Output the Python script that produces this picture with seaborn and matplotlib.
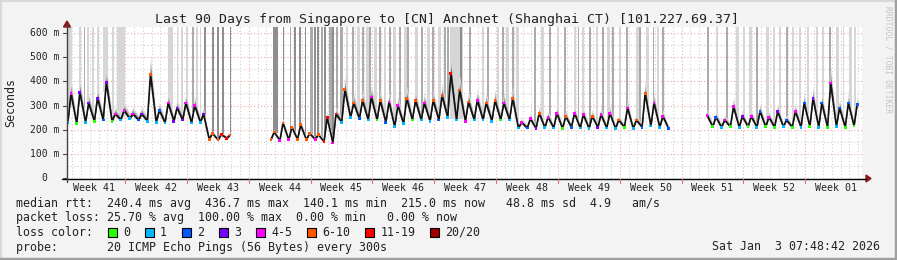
import numpy as np
import pandas as pd
import matplotlib
matplotlib.use("Agg")
import matplotlib.pyplot as plt
import seaborn as sns
from matplotlib.patches import Rectangle, Polygon
from matplotlib.lines import Line2D

# ---------------- data ----------------
# daily trough / peak of the median rtt (ms), None = no data
median_lo = [230, 225, 230, 235, 240, 235, 240, 245, 240, 235, 230, 228, 235, 240, 228, 230,
             160, 158, 165,
             None, None, None, None,
             160, 155, 158, 160, 158, 160, 150, 145,
             230, 250, 245, 240, 240, 230, 212, 225, 240, 240, 235, 240, 250, 240, 235, 240, 240, 235, 240, 240,
             207, 207, 205, 208, 207, 205, 210, 207, 205, 210, 207, 205, 210, 205, 210, 215, 210,
             205, None, None, None, None,
             212, 210, 212, 210, 212, 210, 212, 210, 212, 210, 210, 212, 210, 210, 212, 210, 215]
median_hi = [350, 355, 310, 330, 395, 265, 280, 265, 265, 430, 280, 310, 290, 310, 300, 265,
             185, 180, 178,
             None, None, None, None,
             190, 228, 210, 220, 185, 180, 250, 265,
             365, 310, 320, 335, 320, 315, 300, 330, 320, 310, 320, 340, 434, 364, 315, 322, 310, 320, 310, 330,
             230, 245, 268, 252, 268, 255, 268, 262, 255, 262, 268, 240, 290, 240, 350, 310, 255,
             None, None, None, None, 260,
             252, 240, 295, 255, 255, 275, 252, 275, 240, 275, 310, 330, 310, 393, 290, 310, 305]
# loss colour class index at trough / peak
loss_lo = [1, 0, 1, 0, 2, 0, 1, 1, 2, 1, 1, 1, 3, 3, 1, 1,
           5, 5, 6,
           0, 0, 0, 0,
           5, 4, 4, 5, 5, 4, 6, 4,
           1, 1, 2, 1, 0, 2, 1, 1, 0, 1, 1, 2, 1, 1, 4, 1, 1, 1, 0, 1,
           1, 2, 3, 1, 1, 0, 2, 1, 1, 3, 1, 1, 0, 1, 2, 1, 1,
           2, 0, 0, 0, 0,
           0, 1, 0, 1, 0, 1, 0, 0, 1, 0, 1, 0, 1, 0, 1, 0, 0]
loss_hi = [4, 3, 3, 3, 3, 4, 4, 4, 3, 5, 2, 4, 3, 4, 4, 3,
           5, 6, 5,
           0, 0, 0, 0,
           5, 5, 5, 5, 5, 5, 6, 6,
           5, 5, 5, 4, 5, 4, 4, 5, 5, 4, 5, 5, 6, 5, 5, 4, 5, 5, 4, 5,
           4, 4, 5, 4, 4, 5, 4, 4, 5, 4, 4, 5, 4, 5, 5, 4, 4,
           0, 0, 0, 0, 4,
           2, 4, 4, 3, 4, 2, 4, 3, 2, 4, 2, 3, 2, 4, 2, 2, 2]

# packet-loss smoke bars: day position, width (days), shade class
loss_bar_day = [0.3, 1.5, 2.0, 2.4, 2.9, 3.5, 4.35, 5.2, 6.15, 11.7, 12.5, 13.0, 13.6, 14.3, 14.7, 15.1,
                15.6, 16.5, 17.1, 17.7, 18.5, 23.6, 24.5, 25.3, 25.8, 26.4, 27.0, 27.7, 28.1, 28.4, 28.9,
                29.2, 29.8, 30.1, 30.6, 31.1, 31.7, 32.4, 33.0, 33.5, 34.0, 34.3, 34.9, 35.4, 36.0, 36.6,
                37.1, 37.7, 38.3, 38.6, 39.6, 40.2, 40.9, 41.4, 42.2, 42.8, 43.1, 44.1, 44.6, 45.6, 47.1,
                47.7, 48.8, 49.4, 49.9, 50.5, 51.0, 53.0, 53.8, 54.7, 55.6, 56.4, 57.5, 57.9, 58.4, 59.2,
                60.0, 60.7, 61.3, 61.8, 62.6, 63.4, 64.6, 64.9, 65.7, 66.4, 66.9, 67.5, 72.6, 73.6, 74.7,
                75.9, 76.6, 77.4, 78.1, 79.3, 80.0, 80.7, 81.5, 82.2, 83.0, 83.9, 84.9, 85.6, 86.4, 87.2,
                87.9, 88.7, 89.2]
loss_bar_width = [0.5, 0.2, 0.15, 0.2, 0.2, 0.2, 0.6, 0.2, 0.9, 0.6, 0.2, 0.2, 0.2, 0.2, 0.2, 0.2,
                  0.2, 0.2, 0.2, 0.2, 0.2, 0.6, 0.2, 0.2, 0.2, 0.2, 0.2, 0.3, 0.2, 0.2, 0.2,
                  0.2, 0.3, 0.2, 0.2, 0.3, 0.3, 0.2, 0.3, 0.2, 0.3, 0.2, 0.3, 0.2, 0.3, 0.2,
                  0.3, 0.2, 0.3, 0.2, 0.3, 0.2, 0.3, 0.2, 0.3, 0.2, 0.2, 1.4, 0.3, 0.2, 0.3,
                  0.2, 0.3, 0.2, 0.3, 0.2, 0.3, 0.2, 0.3, 0.2, 0.3, 0.2, 0.3, 0.2, 0.3, 0.2,
                  0.3, 0.2, 0.3, 0.2, 0.3, 0.2, 0.3, 0.2, 0.3, 0.2, 0.3, 0.2, 0.2, 0.3, 0.2,
                  0.3, 0.2, 0.3, 0.2, 0.3, 0.2, 0.3, 0.2, 0.3, 0.2, 0.3, 0.2, 0.3, 0.2, 0.3,
                  0.2, 0.3, 0.2]
loss_bar_shade = ['l', 'l', 'm', 'l', 'l', 'l', 'l', 'l', 'l', 'l', 'l', 'l', 'l', 'm', 'l', 'l',
                  'd', 'd', 'd', 'd', 'd', 'd', 'd', 'm', 'd', 'd', 'd', 'm', 'd', 'd', 'm',
                  'd', 'm', 'd', 'm', 'm', 'l', 'm', 'l', 'm', 'l', 'm', 'l', 'm', 'l', 'm',
                  'l', 'm', 'l', 'm', 'l', 'm', 'l', 'm', 'l', 'm', 'm', 'l', 'd', 'm', 'l',
                  'm', 'l', 'm', 'l', 'm', 'l', 'm', 'l', 'm', 'l', 'm', 'l', 'm', 'l', 'm',
                  'l', 'm', 'l', 'm', 'l', 'm', 'l', 'm', 'l', 'm', 'l', 'm', 'm', 'l', 'm',
                  'l', 'l', 'l', 'm', 'l', 'l', 'l', 'm', 'l', 'l', 'l', 'l', 'l', 'm', 'l',
                  'l', 'l', 'l']

loss_labels = ["0", "1", "2", "3", "4-5", "6-10", "11-19", "20/20"]
loss_colors = ["#26ff00", "#00b8ff", "#0059ff", "#7e00ff", "#ff00ff", "#ff5500", "#ff0000", "#a10000"]
week_labels = ["Week 41", "Week 42", "Week 43", "Week 44", "Week 45", "Week 46", "Week 47",
               "Week 48", "Week 49", "Week 50", "Week 51", "Week 52", "Week 01"]
y_ticks = [0, 100, 200, 300, 400, 500, 600]
y_tick_labels = ["0", "100 m", "200 m", "300 m", "400 m", "500 m", "600 m"]

title = "Last 90 Days from Singapore to [CN] Anchnet (Shanghai CT) [101.227.69.37]"
line_rtt = "median rtt:  240.4 ms avg  436.7 ms max  140.1 ms min  215.0 ms now   48.8 ms sd  4.9   am/s"
line_loss = "packet loss: 25.70 % avg  100.00 % max  0.00 % min   0.00 % now"
line_probe = "probe:       20 ICMP Echo Pings (56 Bytes) every 300s"
date_text = "Sat Jan  3 07:48:42 2026"

# ---------------- build long table ----------------
rows = []
seg = 0
prev = None
for d in range(90):
    for off, val, lc in ((0.1, median_lo[d], loss_lo[d]), (0.45, median_hi[d], loss_hi[d])):
        if val is None:
            if prev is not None:
                seg += 1
            prev = None
            continue
        rows.append(dict(t=d + off, v=val, seg=seg, loss=loss_labels[lc]))
        prev = val
df = pd.DataFrame(rows)

# ---------------- figure ----------------
sns.set_theme(style="white")
plt.rcParams["font.family"] = ["DejaVu Sans Mono"]

W, H = 897, 260
fig = plt.figure(figsize=(W / 100, H / 100), dpi=100, facecolor="#f3f3f3")
X0, X1 = 67, 862
YT, YB = 27, 178
YMAX = 625.0
ax = fig.add_axes([X0 / W, 1 - YB / H, (X1 - X0) / W, (YB - YT) / H])
ax.set_facecolor("white")


def fx(px):
    return px / W


def fy(py):
    return 1 - py / H


def day_px(d):
    return X0 + (X1 - X0) * d / 90.0


def ms_py(v):
    return YB - (YB - YT) * v / YMAX


# grid
for v in range(50, 625, 50):
    if v % 100 == 0:
        ax.axhline(v, color="#f2a6a6", lw=0.8, ls=(0, (1, 2)), zorder=0)
    else:
        ax.axhline(v, color="#cfcfcf", lw=0.8, ls=(0, (1, 2)), zorder=0)
for k in range(0, 91):
    d = 0.57 + k
    if d > 90:
        break
    if abs(((d - 6.57) / 7) - round((d - 6.57) / 7)) < 1e-6:
        ax.axvline(d, color="#f2a6a6", lw=0.8, ls=(0, (1, 2)), zorder=0)
    else:
        ax.axvline(d, color="#cfcfcf", lw=0.8, ls=(0, (1, 2)), zorder=0)

# loss bars (smoke of lost pings)
shade_map = {"l": "#d6d6d6", "m": "#ababab", "d": "#8e8e8e"}
bar_bottom = np.interp(loss_bar_day, df["t"], df["v"]) + 5
ax.bar(loss_bar_day, YMAX - bar_bottom, bottom=bar_bottom, width=loss_bar_width,
       color=[shade_map[s] for s in loss_bar_shade], linewidth=0, zorder=1)

# smoke around the median
for sid, g in df.groupby("seg"):
    t = g["t"].to_numpy()
    v = g["v"].to_numpy(dtype=float)
    ext = 10 + 0.3 * np.clip(v - 200, 0, None)
    ax.fill_between(t, v - 6, v + ext, color="#dddddd", lw=0, zorder=2)
    ax.fill_between(t, v - 4, v + ext * 0.6, color="#a8a8a8", lw=0, zorder=2)
    ax.fill_between(t, v - 2, v + ext * 0.3, color="#555555", lw=0, zorder=2)

# median line and loss colour dots
sns.lineplot(data=df, x="t", y="v", units="seg", estimator=None, sort=False,
             color="#111111", lw=1.2, ax=ax, legend=False, zorder=3)
sns.scatterplot(data=df, x="t", y="v", hue="loss", hue_order=loss_labels,
                palette=dict(zip(loss_labels, loss_colors)), marker="s", s=4,
                linewidth=0, ax=ax, legend=False, zorder=4)

ax.set_xlim(0, 90)
ax.set_ylim(0, YMAX)
ax.set_xlabel("")
ax.set_ylabel("")
ax.set_xticks([])
ax.set_yticks([])
for s in ax.spines.values():
    s.set_visible(False)

# axes lines and arrows
fig.add_artist(Line2D([fx(62), fx(866)], [fy(178.5), fy(178.5)], color="black", lw=1.0))
fig.add_artist(Line2D([fx(67), fx(67)], [fy(182), fy(24)], color="#444444", lw=1.0))
fig.add_artist(Polygon([[fx(866), fy(175)], [fx(866), fy(182)], [fx(871), fy(178.5)]],
                       closed=True, color="#8b1a1a"))
fig.add_artist(Polygon([[fx(63.5), fy(27)], [fx(70.5), fy(27)], [fx(67), fy(21)]],
                       closed=True, color="#8b1a1a"))
for k in range(12):
    xp = day_px(6.57 + 7 * k)
    fig.add_artist(Line2D([fx(xp), fx(xp)], [fy(179), fy(183)], color="#e07070", lw=0.8))
for v in y_ticks:
    yp = ms_py(v)
    fig.add_artist(Line2D([fx(63), fx(67)], [fy(yp), fy(yp)], color="#444444", lw=0.8))

# tick labels
for v, lab in zip(y_ticks, y_tick_labels):
    xr = 59 if lab != "0" else 47
    fig.text(fx(xr), fy(ms_py(v)), lab, ha="right", va="center", fontsize=7.0, color="#222222")
for k, lab in enumerate(week_labels):
    fig.text(fx(day_px(3.07 + 7 * k)), fy(188), lab, ha="center", va="center", fontsize=7.2,
             color="#222222")

fig.text(fx(11), fy(103), "Seconds", rotation=90, ha="center", va="center", fontsize=8.4,
         color="#222222")
fig.text(fx(447), fy(19), title, ha="center", va="center", fontsize=9.5, color="#222222")
fig.text(fx(888), fy(60), "RRDTOOL / TOBI OETIKER", rotation=270, ha="center", va="center",
         fontsize=5.8, color="#c4c4c4")

# legend block
LX = 16
fig.text(fx(LX), fy(204), line_rtt, ha="left", va="center", fontsize=8.4, color="#222222")
fig.text(fx(LX), fy(218), line_loss, ha="left", va="center", fontsize=8.4, color="#222222")
fig.text(fx(LX), fy(232), "loss color:", ha="left", va="center", fontsize=8.4, color="#222222")
lab_x = 123
for lab, col in zip(loss_labels, loss_colors):
    fig.add_artist(Rectangle((fx(lab_x - 15), fy(236.5)), 9 / W, 9 / H, facecolor=col,
                             edgecolor="black", lw=0.8, transform=fig.transFigure))
    fig.text(fx(lab_x), fy(232), lab, ha="left", va="center", fontsize=8.4, color="#222222")
    lab_x += 7.02 * len(lab) + 30
fig.text(fx(LX), fy(247), line_probe, ha="left", va="center", fontsize=8.4, color="#222222")
fig.text(fx(880), fy(247), date_text, ha="right", va="center", fontsize=8.4, color="#222222")

# frame
fig.add_artist(Line2D([0, 1], [fy(0.5), fy(0.5)], color="#d8d8d8", lw=1.5))
fig.add_artist(Line2D([fx(0.5), fx(0.5)], [0, 1], color="#d8d8d8", lw=1.5))
fig.add_artist(Line2D([0, 1], [fy(258.5), fy(258.5)], color="#a0a0a0", lw=2.5))
fig.add_artist(Line2D([fx(896), fx(896)], [0, 1], color="#a0a0a0", lw=2.5))

fig.savefig("out.png", dpi=100, facecolor=fig.get_facecolor())
